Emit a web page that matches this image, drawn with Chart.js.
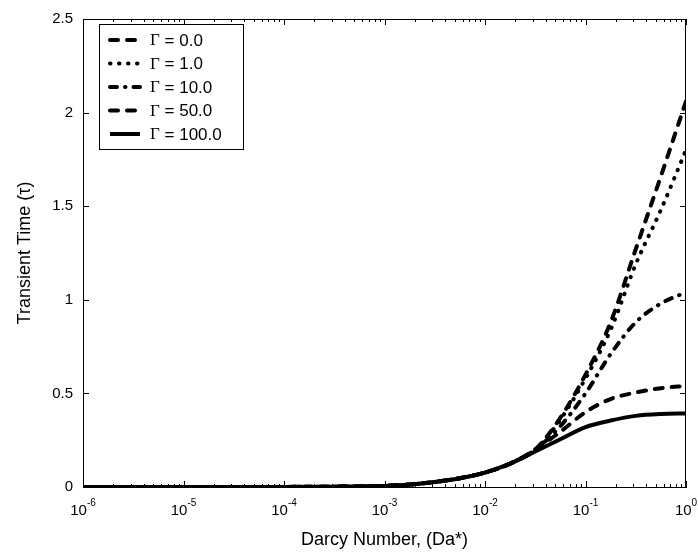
<!DOCTYPE html>
<html><head><meta charset="utf-8">
<script src="https://cdn.jsdelivr.net/npm/chart.js@4/dist/chart.umd.min.js"></script>
<style>html,body{margin:0;padding:0;background:#fff}#wrap{width:698px;height:560px;position:relative}</style>
</head><body><div id="wrap"><canvas id="c"></canvas></div>
<script>
// ---- data ----
const darcyNumbers = [1e-6, 1e-5, 1e-4, 3.162e-4, 1e-3, 1.778e-3, 3.162e-3, 5.623e-3, 1e-2, 1.778e-2, 3.162e-2, 5.623e-2, 0.1, 0.1778, 0.3162, 0.5623, 1];
const gammaLabels = ['0.0', '1.0', '10.0', '50.0', '100.0'];
const tauGamma0   = [0, 0, 0.0005, 0.002, 0.006, 0.013, 0.027, 0.047, 0.077, 0.125, 0.20, 0.37, 0.60, 0.88, 1.27, 1.66, 2.06];
const tauGamma1   = [0, 0, 0.0005, 0.002, 0.006, 0.013, 0.027, 0.047, 0.077, 0.125, 0.20, 0.36, 0.58, 0.84, 1.19, 1.48, 1.80];
const tauGamma10  = [0, 0, 0.0005, 0.002, 0.006, 0.013, 0.027, 0.047, 0.077, 0.125, 0.20, 0.325, 0.50, 0.71, 0.88, 0.98, 1.04];
const tauGamma50  = [0, 0, 0.0005, 0.002, 0.006, 0.013, 0.027, 0.047, 0.077, 0.125, 0.20, 0.295, 0.40, 0.47, 0.505, 0.528, 0.54];
const tauGamma100 = [0, 0, 0.0005, 0.002, 0.006, 0.013, 0.027, 0.047, 0.077, 0.125, 0.19, 0.255, 0.32, 0.355, 0.38, 0.39, 0.393];
const xExponents = [-6, -5, -4, -3, -2, -1, 0];
const yTickValues = [0, 0.5, 1, 1.5, 2, 2.5];

const seriesValues = [tauGamma0, tauGamma1, tauGamma10, tauGamma50, tauGamma100];
const dashStyles = [[8, 9], [0.5, 8.5], [7, 8, 0.5, 8], [8, 9], []];
const capStyles = ['round', 'round', 'round', 'round', 'butt'];

const datasets = seriesValues.map((vals, i) => ({
  label: 'Γ = ' + gammaLabels[i],
  data: darcyNumbers.map((x, j) => ({ x: x, y: vals[j] })),
  borderColor: '#000',
  backgroundColor: '#000',
  borderWidth: 4,
  borderDash: dashStyles[i],
  borderCapStyle: capStyles[i],
  pointRadius: 0,
  fill: false,
  cubicInterpolationMode: 'monotone'
}));

const framePlugin = {
  id: 'frameTicks',
  beforeDatasetsDraw(chart) {
    const { ctx, chartArea: a, scales: { x, y } } = chart;
    ctx.save();
    ctx.strokeStyle = '#000';
    ctx.lineWidth = 1;
    ctx.beginPath();
    ctx.moveTo(a.left, a.top + 0.5); ctx.lineTo(a.right, a.top + 0.5);
    ctx.moveTo(a.right - 0.5, a.top); ctx.lineTo(a.right - 0.5, a.bottom);
    xExponents.forEach(e => {
      for (let m = 1; m <= 9; m++) {
        if (e === 0 && m > 1) break;
        const px = Math.round(x.getPixelForValue(m * Math.pow(10, e))) + 0.5;
        const len = m === 1 ? 6 : 3;
        ctx.moveTo(px, a.bottom); ctx.lineTo(px, a.bottom - len);
        ctx.moveTo(px, a.top); ctx.lineTo(px, a.top + len);
      }
    });
    yTickValues.forEach(t => {
      const py = Math.round(y.getPixelForValue(t)) + 0.5;
      ctx.moveTo(a.left, py); ctx.lineTo(a.left + 6, py);
      ctx.moveTo(a.right, py); ctx.lineTo(a.right - 6, py);
    });
    ctx.stroke();
    ctx.fillStyle = '#000';
    ctx.textBaseline = 'alphabetic';
    xExponents.forEach(e => {
      const px = x.getPixelForValue(Math.pow(10, e));
      ctx.font = '15px Arial, "Liberation Sans", sans-serif';
      const w1 = ctx.measureText('10').width;
      ctx.font = '10px Arial, "Liberation Sans", sans-serif';
      const sup = String(e);
      const w2 = ctx.measureText(sup).width;
      const start = px - (w1 + w2) / 2;
      ctx.font = '15px Arial, "Liberation Sans", sans-serif';
      ctx.textAlign = 'left';
      ctx.fillText('10', start, a.bottom + 28);
      ctx.font = '10px Arial, "Liberation Sans", sans-serif';
      ctx.fillText(sup, start + w1, a.bottom + 19);
    });
    ctx.restore();
  },
  afterDraw(chart) {
    const { ctx } = chart;
    ctx.save();
    ctx.fillStyle = '#fff';
    ctx.fillRect(99.5, 24.5, 144, 125);
    ctx.strokeStyle = '#000';
    ctx.lineWidth = 1;
    ctx.strokeRect(99.5, 24.5, 144, 125);
    chart.data.datasets.forEach((ds, i) => {
      const yy = 40 + i * 23.5;
      ctx.beginPath();
      ctx.lineWidth = ds.borderWidth;
      ctx.setLineDash(ds.borderDash);
      ctx.lineCap = ds.borderCapStyle;
      ctx.moveTo(110, yy); ctx.lineTo(140, yy);
      ctx.stroke();
      ctx.setLineDash([]);
      ctx.fillStyle = '#000';
      ctx.textBaseline = 'middle';
      ctx.textAlign = 'left';
      ctx.font = '17px "Liberation Serif", "Times New Roman", serif';
      ctx.fillText('Γ', 150, yy + 1);
      const gw = ctx.measureText('Γ').width;
      ctx.font = '17px Arial, "Liberation Sans", sans-serif';
      ctx.fillText(' = ' + gammaLabels[i], 150 + gw, yy + 1);
    });
    ctx.restore();
  }
};

new Chart(document.getElementById('c'), {
  type: 'line',
  data: { datasets: datasets },
  options: {
    responsive: true,
    maintainAspectRatio: false,
    animation: false,
    layout: { padding: { top: 13, right: 12, bottom: 0, left: 0 } },
    plugins: { legend: { display: false }, tooltip: { enabled: false } },
    scales: {
      x: {
        type: 'logarithmic',
        min: 1e-6, max: 1,
        grid: { display: false, drawTicks: false },
        border: { display: true, color: '#000', width: 1 },
        ticks: { display: false },
        title: { display: true, text: 'Darcy Number, (Da*)', color: '#000',
                 font: { family: 'Arial, "Liberation Sans", sans-serif', size: 18 }, padding: { top: 0, bottom: 9 } },
        afterFit(scale) { scale.height = 73; }
      },
      y: {
        type: 'linear',
        min: 0, max: 2.5,
        grid: { display: false, drawTicks: false },
        border: { display: true, color: '#000', width: 1 },
        ticks: { stepSize: 0.5, color: '#000', padding: 10,
                 callback: (v) => String(v),
                 font: { family: 'Arial, "Liberation Sans", sans-serif', size: 15 } },
        title: { display: true, text: 'Transient Time (τ)', color: '#000',
                 font: { family: 'Arial, "Liberation Sans", sans-serif', size: 18 }, padding: { top: 14, bottom: 0 } },
        afterFit(scale) { scale.width = 83; }
      }
    }
  },
  plugins: [framePlugin]
});
</script>
</body></html>
